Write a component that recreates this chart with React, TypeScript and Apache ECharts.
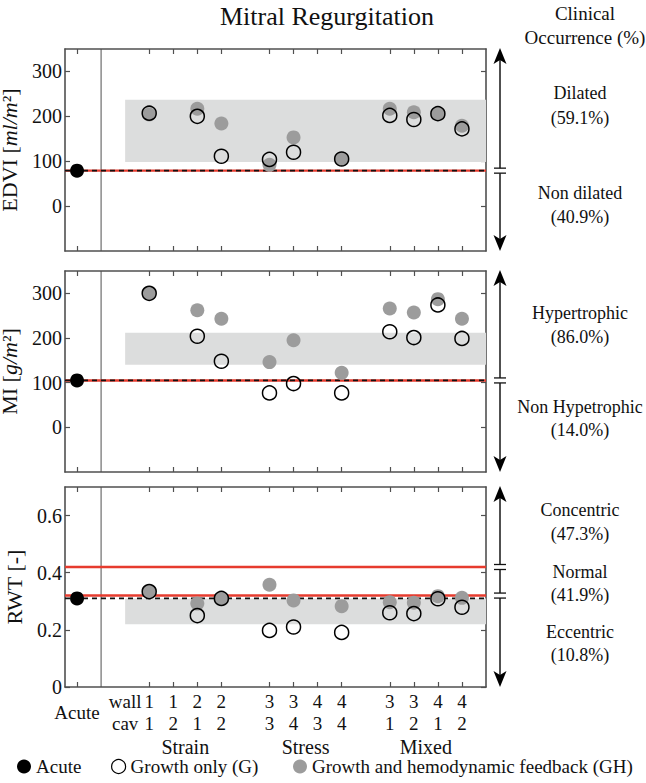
import { useEffect, useRef } from 'react';
import * as echarts from 'echarts';

// ---------------- data ----------------
const caseX = [3, 4, 5, 6, 8, 9, 10, 11, 13, 14, 15, 16];
const wallLabels = ['1', '1', '2', '2', '3', '3', '4', '4', '3', '3', '4', '4'];
const cavLabels = ['1', '2', '1', '2', '3', '4', '3', '4', '1', '2', '1', '2'];
const groupNames = ['Strain', 'Stress', 'Mixed'];
const groupX = [4.5, 9.5, 14.5];
const acuteX = 0;
const rowLabelX = 2;
const separatorX = 1;
const xTickValues = [0, 3, 4, 5, 6, 8, 9, 10, 11, 13, 14, 15, 16];

const edviG = [207, null, 200, 111, 104, 120, null, 105, 202, 193, 206, 172];
const edviGH = [204, null, 217, 184, 92, 153, null, 105, 217, 209, 206, 179];
const miG = [300, null, 204, 148, 77, 98, null, 77, 214, 201, 274, 199];
const miGH = [300, null, 262, 243, 146, 195, null, 122, 266, 257, 287, 243];
const rwtG = [0.334, null, 0.25, 0.31, 0.198, 0.21, null, 0.191, 0.26, 0.257, 0.309, 0.279];
const rwtGH = [0.334, null, 0.292, 0.31, 0.358, 0.303, null, 0.283, 0.297, 0.295, 0.318, 0.312];

const acuteValues = [79, 105, 0.31];
const bandRanges = [[98, 237], [140, 212], [0.22, 0.31]];
const bandX = [2, 17];
const thresholdValues = [[79], [105], [0.32, 0.42]];
const yMins = [-100, -100, 0];
const yMaxs = [350, 350, 0.7];
const yTickValues = [[0, 100, 200, 300], [0, 100, 200, 300], [0, 0.2, 0.4, 0.6]];

const occurrenceLabels = [
  ['Dilated', '(59.1%)', 'Non dilated', '(40.9%)'],
  ['Hypertrophic', '(86.0%)', 'Non Hypetrophic', '(14.0%)'],
  ['Concentric', '(47.3%)', 'Normal', '(41.9%)', 'Eccentric', '(10.8%)'],
];
const seriesNames = ['Acute', 'Growth only (G)', 'Growth and hemodynamic feedback (GH)'];

// ---------------- layout ----------------
const X_MIN = -0.5;
const X_MAX = 17;
const GRID_LEFT = 65;
const GRID_WIDTH = 421;
const gridTops = [49, 271, 487];
const gridHeights = [202, 201, 200];
const occurrenceY = [
  [93, 118, 193, 217],
  [313, 337, 407, 430],
  [510, 534, 572, 595, 632, 655],
];
const FONT = "'Liberation Serif', 'DejaVu Serif', serif";
const FRAME = '#505050';
const RED = '#e63b2e';
const GRAY = '#9c9c9c';
const BAND = '#dcdddd';

const panelG = [edviG, miG, rwtG];
const panelGH = [edviGH, miGH, rwtGH];
const axisNames = ['EDVI [{i|ml/m}²]', 'MI [{i|g/m}²]', 'RWT [-]'];

function pairs(vals: (number | null)[]) {
  const out: number[][] = [];
  vals.forEach((v, k) => {
    if (v != null) out.push([caseX[k], v]);
  });
  return out;
}

function xLabel(v: number) {
  if (Math.abs(v - rowLabelX) < 1e-6) return 'wall';
  const k = caseX.findIndex((c) => Math.abs(c - v) < 1e-6);
  return k >= 0 ? wallLabels[k] : '';
}
function cavLabel(v: number) {
  if (Math.abs(v - rowLabelX) < 1e-6) return 'cav';
  const k = caseX.findIndex((c) => Math.abs(c - v) < 1e-6);
  return k >= 0 ? cavLabels[k] : '';
}
function groupLabel(v: number) {
  const k = groupX.findIndex((c) => Math.abs(c - v) < 1e-6);
  return k >= 0 ? groupNames[k] : '';
}

export default function App() {
  const ref = useRef<HTMLDivElement>(null);
  useEffect(() => {
    if (!ref.current) return;
    const chart = echarts.init(ref.current, null, { renderer: 'svg' });
    const grids: any[] = [];
    const xAxes: any[] = [];
    const yAxes: any[] = [];
    const series: any[] = [];
    const yLeftIdx: number[] = [];

    const baseX = (gi: number) => ({
      type: 'value',
      gridIndex: gi,
      min: X_MIN,
      max: X_MAX,
      splitLine: { show: false },
    });
    const labelStyle = { fontSize: 19, fontFamily: FONT, color: '#111' };

    for (let i = 0; i < 3; i++) {
      grids.push({
        left: GRID_LEFT,
        top: gridTops[i],
        width: GRID_WIDTH,
        height: gridHeights[i],
        show: false,
        containLabel: false,
        outerBoundsMode: 'none',
      });
      const xb = xAxes.length;
      xAxes.push({
        ...baseX(i),
        position: 'bottom',
        axisLine: { show: true, onZero: false, lineStyle: { color: FRAME, width: 1.6 } },
        axisTick: { show: true, inside: true, length: 5, customValues: xTickValues, lineStyle: { color: FRAME, width: 1.2 } },
        axisLabel: {
          show: i === 2,
          customValues: [rowLabelX, ...caseX],
          formatter: (v: number) => xLabel(v),
          margin: 5,
          ...labelStyle,
        },
      });
      xAxes.push({
        ...baseX(i),
        position: 'top',
        axisLine: { show: true, onZero: false, lineStyle: { color: FRAME, width: 1.6 } },
        axisTick: { show: true, inside: true, length: 5, customValues: xTickValues, lineStyle: { color: FRAME, width: 1.2 } },
        axisLabel: { show: false },
      });
      if (i === 2) {
        const extra = [
          { offset: 11, values: [acuteX], fmt: () => 'Acute', size: 19 },
          { offset: 22, values: [rowLabelX, ...caseX], fmt: cavLabel, size: 19 },
          { offset: 45, values: groupX, fmt: groupLabel, size: 20 },
        ];
        extra.forEach((e) => {
          xAxes.push({
            ...baseX(i),
            position: 'bottom',
            offset: e.offset,
            axisLine: { show: false, onZero: false },
            axisTick: { show: false },
            axisLabel: { show: true, customValues: e.values, formatter: (v: number) => e.fmt(v), margin: 5, ...labelStyle, fontSize: e.size },
          });
        });
      }
      const yl = yAxes.length;
      yLeftIdx.push(yl);
      yAxes.push({
        type: 'value',
        gridIndex: i,
        min: yMins[i],
        max: yMaxs[i],
        position: 'left',
        name: axisNames[i],
        nameLocation: 'middle',
        nameRotate: 90,
        nameGap: 37,
        nameTextStyle: {
          fontSize: 22,
          lineHeight: 24,
          fontFamily: FONT,
          color: '#111',
          rich: { i: { fontStyle: 'italic', fontSize: 22, lineHeight: 24, fontFamily: FONT, color: '#111' } },
        },
        splitLine: { show: false },
        axisLine: { show: true, onZero: false, lineStyle: { color: FRAME, width: 1.6 } },
        axisTick: { show: true, inside: true, length: 5, customValues: yTickValues[i], lineStyle: { color: FRAME, width: 1.2 } },
        axisLabel: {
          customValues: yTickValues[i],
          margin: 3,
          formatter: (v: number) => (i === 2 ? (v === 0 ? '0' : v.toFixed(1)) : String(v)),
          ...labelStyle,
          fontSize: 20,
        },
      });
      yAxes.push({
        type: 'value',
        gridIndex: i,
        min: yMins[i],
        max: yMaxs[i],
        position: 'right',
        splitLine: { show: false },
        axisLine: { show: true, onZero: false, lineStyle: { color: FRAME, width: 1.6 } },
        axisTick: { show: true, inside: true, length: 5, customValues: yTickValues[i], lineStyle: { color: FRAME, width: 1.2 } },
        axisLabel: { show: false },
      });

      // grey band
      series.push({
        type: 'custom',
        xAxisIndex: xb,
        yAxisIndex: yl,
        z: 1,
        silent: true,
        data: [[bandX[0], bandRanges[i][0], bandX[1], bandRanges[i][1]]],
        renderItem: (_p: any, api: any) => {
          const p1 = api.coord([api.value(0), api.value(3)]);
          const p2 = api.coord([api.value(2), api.value(1)]);
          return {
            type: 'rect',
            shape: { x: p1[0], y: p1[1], width: p2[0] - p1[0], height: p2[1] - p1[1] },
            style: { fill: BAND },
          };
        },
      });
      // separator
      series.push({
        type: 'line',
        xAxisIndex: xb,
        yAxisIndex: yl,
        z: 2,
        silent: true,
        symbol: 'none',
        data: [[separatorX, yMins[i]], [separatorX, yMaxs[i]]],
        lineStyle: { color: FRAME, width: 1 },
      });
      // thresholds
      thresholdValues[i].forEach((t) => {
        series.push({
          type: 'line',
          xAxisIndex: xb,
          yAxisIndex: yl,
          z: 2,
          silent: true,
          symbol: 'none',
          data: [[X_MIN, t], [X_MAX, t]],
          lineStyle: { color: RED, width: 2.4 },
        });
      });
      // acute dashed reference
      series.push({
        type: 'line',
        xAxisIndex: xb,
        yAxisIndex: yl,
        z: 3,
        silent: true,
        symbol: 'none',
        data: [[X_MIN, acuteValues[i]], [X_MAX, acuteValues[i]]],
        lineStyle: { color: '#111', width: 1.8, type: [5, 4] },
      });
      // GH
      series.push({
        name: seriesNames[2],
        type: 'scatter',
        xAxisIndex: xb,
        yAxisIndex: yl,
        z: 4,
        symbol: 'circle',
        symbolSize: 14,
        data: pairs(panelGH[i]),
        itemStyle: { color: GRAY, opacity: 1 },
      });
      // G
      series.push({
        name: seriesNames[1],
        type: 'scatter',
        xAxisIndex: xb,
        yAxisIndex: yl,
        z: 5,
        symbol: 'circle',
        symbolSize: 14,
        data: pairs(panelG[i]),
        itemStyle: { color: 'rgba(255,255,255,0)', borderColor: '#000', borderWidth: 1.5, opacity: 1 },
      });
      // Acute
      series.push({
        name: seriesNames[0],
        type: 'scatter',
        xAxisIndex: xb,
        yAxisIndex: yl,
        z: 6,
        symbol: 'circle',
        symbolSize: 14,
        data: [[acuteX, acuteValues[i]]],
        itemStyle: { color: '#000', opacity: 1 },
      });
    }

    const legendBase = {
      top: 755,
      padding: 2,
      itemWidth: 14,
      itemHeight: 14,
      itemGap: 0,
      selectedMode: false,
      textStyle: { fontSize: 19, fontFamily: FONT, color: '#111' },
    };

    chart.setOption({
      animation: false,
      backgroundColor: '#fff',
      grid: grids,
      xAxis: xAxes,
      yAxis: yAxes,
      series,
      legend: [
        { ...legendBase, left: 15, data: [{ name: seriesNames[0], icon: 'circle', itemStyle: { color: '#000' } }] },
        {
          ...legendBase,
          left: 109,
          data: [{ name: seriesNames[1], icon: 'circle', itemStyle: { color: '#fff', borderColor: '#000', borderWidth: 1.2 } }],
        },
        { ...legendBase, left: 291, data: [{ name: seriesNames[2], icon: 'circle', itemStyle: { color: GRAY } }] },
      ],
    });

    // right-hand annotations
    const graphics: any[] = [];
    const AX = 500;
    const textStyle = (txt: string, x: number, y: number, size = 18) => ({
      type: 'text',
      x,
      y,
      silent: true,
      style: { text: txt, fill: '#111', font: `${size}px ${FONT}`, textAlign: 'center', textVerticalAlign: 'middle' },
    });
    graphics.push(textStyle('Mitral Regurgitation', 327, 16, 26));
    graphics.push(textStyle('Clinical', 585, 13, 19));
    graphics.push(textStyle('Occurrence (%)', 585, 37, 19));
    for (let i = 0; i < 3; i++) {
      const top = gridTops[i] - 1;
      const bottom = gridTops[i] + gridHeights[i];
      const breaks = thresholdValues[i]
        .map((t) => chart.convertToPixel({ yAxisIndex: yLeftIdx[i] }, t) as number)
        .sort((a, b) => a - b);
      const stops: number[] = [top + 10];
      breaks.forEach((b) => {
        stops.push(b - 2.5, b + 2.5);
      });
      stops.push(bottom - 10);
      for (let k = 0; k < stops.length; k += 2) {
        graphics.push({
          type: 'line',
          silent: true,
          shape: { x1: AX, y1: stops[k], x2: AX, y2: stops[k + 1] },
          style: { stroke: FRAME, lineWidth: 2 },
        });
      }
      breaks.forEach((b) => {
        [-2.5, 2.5].forEach((d) => {
          graphics.push({
            type: 'line',
            silent: true,
            shape: { x1: AX - 6, y1: b + d, x2: AX + 6, y2: b + d },
            style: { stroke: '#111', lineWidth: 1.3 },
          });
        });
      });
      graphics.push({
        type: 'polygon',
        silent: true,
        shape: { points: [[AX, top], [AX - 6.5, top + 16], [AX, top + 12], [AX + 6.5, top + 16]] },
        style: { fill: '#000' },
      });
      graphics.push({
        type: 'polygon',
        silent: true,
        shape: { points: [[AX, bottom], [AX - 6.5, bottom - 16], [AX, bottom - 12], [AX + 6.5, bottom - 16]] },
        style: { fill: '#000' },
      });
      occurrenceLabels[i].forEach((t, k) => {
        graphics.push(textStyle(t, 580, occurrenceY[i][k], 18));
      });
    }
    chart.setOption({ graphic: graphics });

    return () => chart.dispose();
  }, []);
  return <div ref={ref} style={{ position: 'absolute', left: 0, top: 0, width: 646, height: 783 }} />;
}
